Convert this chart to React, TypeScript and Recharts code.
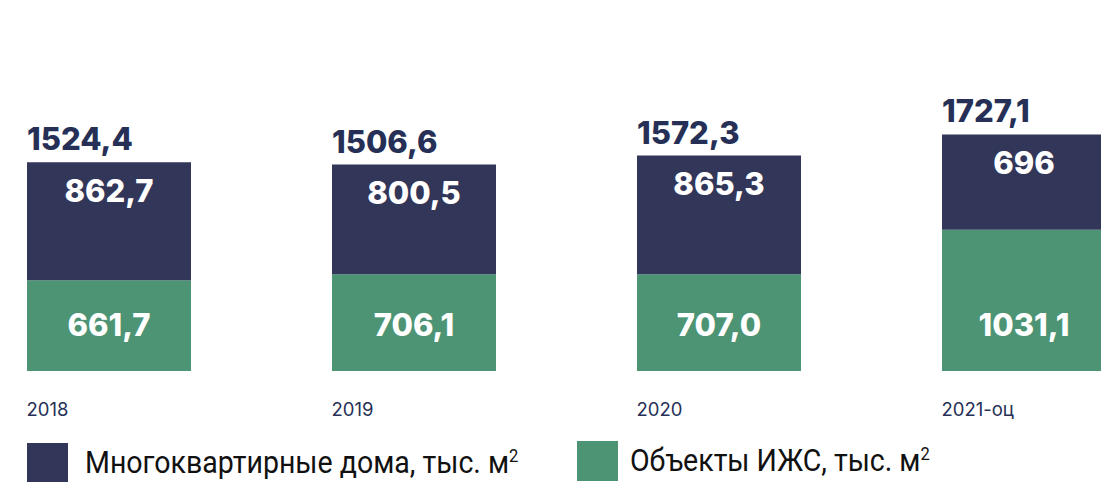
import { Bar, BarChart, LabelList, XAxis, YAxis } from "recharts";

const years = ["2018", "2019", "2020", "2021-оц"];
const apartments = [862.7, 800.5, 865.3, 696];
const apartmentLabels = ["862,7", "800,5", "865,3", "696"];
const izhs = [661.7, 706.1, 707.0, 1031.1];
const izhsLabels = ["661,7", "706,1", "707,0", "1031,1"];

const NAVY = "#323659";
const GREEN = "#4c9474";
const TEXT = "#263056";
const NUM_FONT = "Inter, 'Open Sans', sans-serif";

const fmt = (v: number) => v.toFixed(1).replace(".", ",");

const data = years.map((year, i) => ({
  year,
  apartments: apartments[i],
  izhs: izhs[i],
  apartmentLabel: apartmentLabels[i],
  izhsLabel: izhsLabels[i],
  totalLabel: fmt(apartments[i] + izhs[i]),
}));

const YearTick = (props: any) => {
  const { x, y, payload } = props;
  return (
    <text
      x={x - 82}
      y={y + 37}
      fill={TEXT}
      fontSize={18.5}
      fontFamily={NUM_FONT}
      textAnchor="start"
    >
      {payload.value}
    </text>
  );
};

const TopValue = (props: any) => {
  const { x, y, width, value } = props;
  return (
    <text
      x={x + width / 2}
      y={y + 31}
      fill="#ffffff"
      fontSize={31}
      fontWeight={800}
      fontFamily={NUM_FONT}
      textAnchor="middle"
      dominantBaseline="middle"
    >
      {value}
    </text>
  );
};

const TotalValue = (props: any) => {
  const { x, y, value } = props;
  return (
    <text
      x={x}
      y={y - 12}
      fill={TEXT}
      fontSize={31}
      fontWeight={800}
      fontFamily={NUM_FONT}
      textAnchor="start"
    >
      {value}
    </text>
  );
};

const BottomValue = (props: any) => {
  const { x, y, width, height, value } = props;
  return (
    <text
      x={x + width / 2}
      y={y + height - 43}
      fill="#ffffff"
      fontSize={31}
      fontWeight={800}
      fontFamily={NUM_FONT}
      textAnchor="middle"
      dominantBaseline="middle"
    >
      {value}
    </text>
  );
};

const legendText = {
  position: "absolute" as const,
  fontFamily: "'Liberation Sans Narrow', Roboto, sans-serif",
  fontSize: 31,
  color: "#111",
  whiteSpace: "nowrap" as const,
  transform: "scaleX(0.92)",
  transformOrigin: "left top",
};

function App() {
  return (
    <div
      style={{
        position: "absolute",
        left: 0,
        top: 0,
        width: 1101,
        height: 482,
        overflow: "hidden",
        background: "#fff",
      }}
    >
      <div style={{ position: "absolute", left: -44, top: 0 }}>
        <BarChart
          width={1220}
          height={482}
          data={data}
          margin={{ top: 97, right: 0, bottom: 0, left: 0 }}
          barSize={164}
        >
          <XAxis
            dataKey="year"
            axisLine={false}
            tickLine={false}
            height={111}
            tick={<YearTick />}
            interval={0}
          />
          <YAxis hide domain={[0, 2000]} />
          <Bar dataKey="izhs" stackId="a" fill={GREEN} isAnimationActive={false}>
            <LabelList dataKey="izhsLabel" content={<BottomValue />} />
          </Bar>
          <Bar dataKey="apartments" stackId="a" fill={NAVY} isAnimationActive={false}>
            <LabelList dataKey="apartmentLabel" content={<TopValue />} />
            <LabelList dataKey="totalLabel" content={<TotalValue />} />
          </Bar>
        </BarChart>
      </div>
      <div
        style={{
          position: "absolute",
          left: 27,
          top: 443,
          width: 41,
          height: 40,
          background: NAVY,
        }}
      />
      <div style={{ ...legendText, left: 85, top: 444 }}>
        Многоквартирные дома, тыс. м<sup style={{ fontSize: 18 }}>2</sup>
      </div>
      <div
        style={{
          position: "absolute",
          left: 577,
          top: 441,
          width: 41,
          height: 40,
          background: GREEN,
        }}
      />
      <div style={{ ...legendText, left: 630, top: 442 }}>
        Объекты ИЖС, тыс. м<sup style={{ fontSize: 18 }}>2</sup>
      </div>
    </div>
  );
}

export default App;
